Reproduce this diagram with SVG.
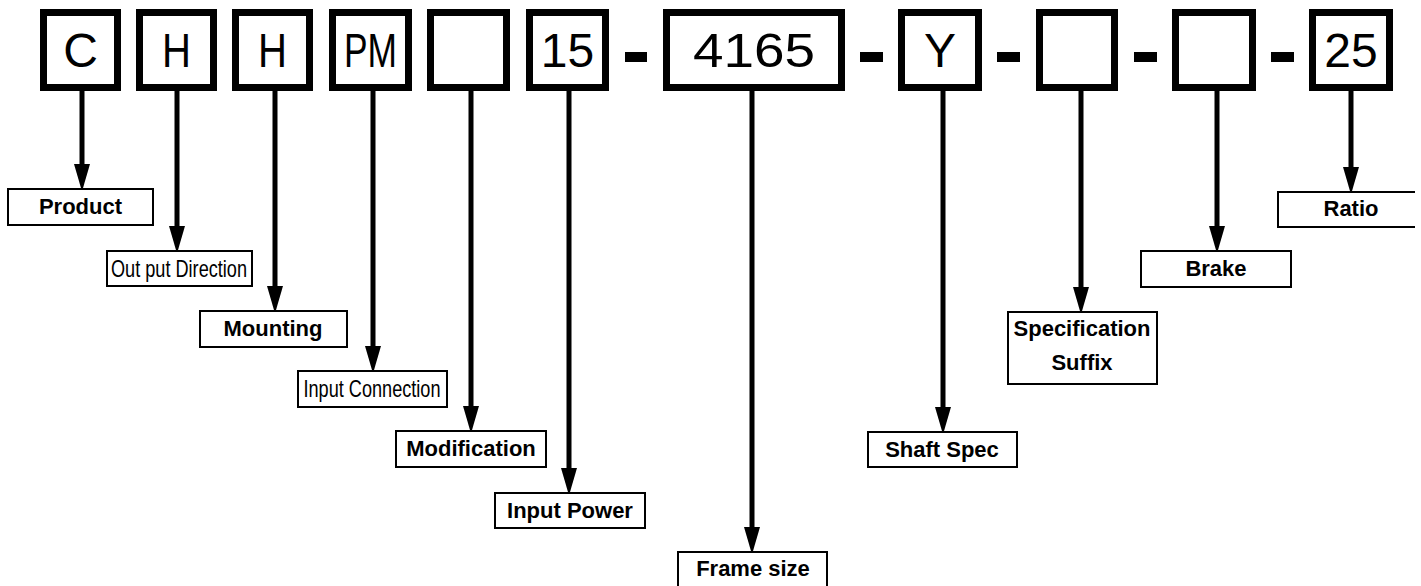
<svg xmlns="http://www.w3.org/2000/svg" width="1421" height="586" viewBox="0 0 1421 586">
<style>
.code{fill:#fff;stroke:#000;stroke-width:7}
.dash{fill:#000}
.ct{font-family:"Liberation Sans",Arial,sans-serif;font-size:48px;fill:#000;text-anchor:middle}
.lb{fill:#fff;stroke:#000;stroke-width:2}
.lt{font-family:"Liberation Sans",Arial,sans-serif;font-size:22px;font-weight:bold;fill:#000;text-anchor:middle}
.nt{font-family:"Liberation Sans",Arial,sans-serif;font-size:24px;fill:#000;text-anchor:middle}
.conn line{stroke:#000;stroke-width:5;marker-end:url(#ah)}
</style>
<defs>
<marker id="ah" markerUnits="userSpaceOnUse" markerWidth="30" markerHeight="20" viewBox="0 -8 26 16" refX="2" refY="0" orient="auto">
<path d="M0,-7 L24,0 L0,7 z" fill="#000"/>
</marker>
</defs>
<rect width="1421" height="586" fill="#fff"/>
<g id="code-C"><rect class="code" x="43.5" y="12.5" width="74" height="75"/><text class="ct" x="80.5" y="67">C</text></g>
<g id="code-H1"><rect class="code" x="139.5" y="12.5" width="74" height="75"/><text class="ct" x="176.5" y="67" textLength="29" lengthAdjust="spacingAndGlyphs">H</text></g>
<g id="code-H2"><rect class="code" x="235.5" y="12.5" width="74" height="75"/><text class="ct" x="272.5" y="67" textLength="29" lengthAdjust="spacingAndGlyphs">H</text></g>
<g id="code-PM"><rect class="code" x="332.5" y="12.5" width="76" height="75"/><text class="ct" x="370.5" y="67" textLength="53" lengthAdjust="spacingAndGlyphs">PM</text></g>
<g id="code-blank1"><rect class="code" x="430.5" y="12.5" width="76" height="75"/></g>
<g id="code-15"><rect class="code" x="529.5" y="12.5" width="76" height="75"/><text class="ct" x="567.5" y="67">15</text></g>
<rect class="dash" x="625" y="52" width="22" height="10"/>
<g id="code-4165"><rect class="code" x="666.5" y="12.5" width="175" height="75"/><text class="ct" x="754" y="67" textLength="122" lengthAdjust="spacingAndGlyphs">4165</text></g>
<rect class="dash" x="860" y="52" width="23" height="10"/>
<g id="code-Y"><rect class="code" x="901.5" y="12.5" width="77" height="75"/><text class="ct" x="940" y="67">Y</text></g>
<rect class="dash" x="997" y="52" width="23" height="10"/>
<g id="code-blank2"><rect class="code" x="1039.5" y="12.5" width="75" height="75"/></g>
<rect class="dash" x="1134" y="52" width="23" height="10"/>
<g id="code-blank3"><rect class="code" x="1175.5" y="12.5" width="77" height="75"/></g>
<rect class="dash" x="1271" y="52" width="23" height="10"/>
<g id="code-25"><rect class="code" x="1312.5" y="12.5" width="77" height="75"/><text class="ct" x="1351" y="67">25</text></g>

<g id="connectors" class="conn">
<line x1="82" y1="91" x2="82" y2="166"/>
<line x1="177" y1="91" x2="177" y2="228"/>
<line x1="275" y1="91" x2="275" y2="288"/>
<line x1="373" y1="91" x2="373" y2="348"/>
<line x1="471" y1="91" x2="471" y2="408"/>
<line x1="569" y1="91" x2="569" y2="470"/>
<line x1="752" y1="91" x2="752" y2="529"/>
<line x1="943" y1="91" x2="943" y2="409"/>
<line x1="1081" y1="91" x2="1081" y2="289"/>
<line x1="1217" y1="91" x2="1217" y2="228"/>
<line x1="1351" y1="91" x2="1351" y2="169"/>
</g>

<g id="lbl-product"><rect class="lb" x="8" y="189" width="145" height="36"/><text class="lt" x="80.5" y="214">Product</text></g>
<g id="lbl-output"><rect class="lb" x="107" y="251" width="145" height="35"/><text class="nt" x="179" y="277" textLength="136" lengthAdjust="spacingAndGlyphs">Out put Direction</text></g>
<g id="lbl-mounting"><rect class="lb" x="200" y="311" width="147" height="36"/><text class="lt" x="273" y="336">Mounting</text></g>
<g id="lbl-inputconn"><rect class="lb" x="298" y="371" width="149" height="36"/><text class="nt" x="372" y="397" textLength="137" lengthAdjust="spacingAndGlyphs">Input Connection</text></g>
<g id="lbl-modification"><rect class="lb" x="396" y="431" width="150" height="36"/><text class="lt" x="471" y="456">Modification</text></g>
<g id="lbl-inputpower"><rect class="lb" x="495" y="493" width="150" height="35"/><text class="lt" x="570" y="518">Input Power</text></g>
<g id="lbl-frame"><rect class="lb" x="678" y="552" width="149" height="48"/><text class="lt" x="753" y="576">Frame size</text></g>
<g id="lbl-shaft"><rect class="lb" x="868" y="432" width="149" height="35"/><text class="lt" x="942" y="457">Shaft Spec</text></g>
<g id="lbl-spec"><rect class="lb" x="1008" y="312" width="149" height="72"/><text class="lt" x="1082" y="336">Specification</text><text class="lt" x="1082" y="370">Suffix</text></g>
<g id="lbl-brake"><rect class="lb" x="1141" y="251" width="150" height="36"/><text class="lt" x="1216" y="276">Brake</text></g>
<g id="lbl-ratio"><path class="lb" d="M1415,192 H1278 V227 H1415"/><text class="lt" x="1351" y="216">Ratio</text></g>
</svg>
